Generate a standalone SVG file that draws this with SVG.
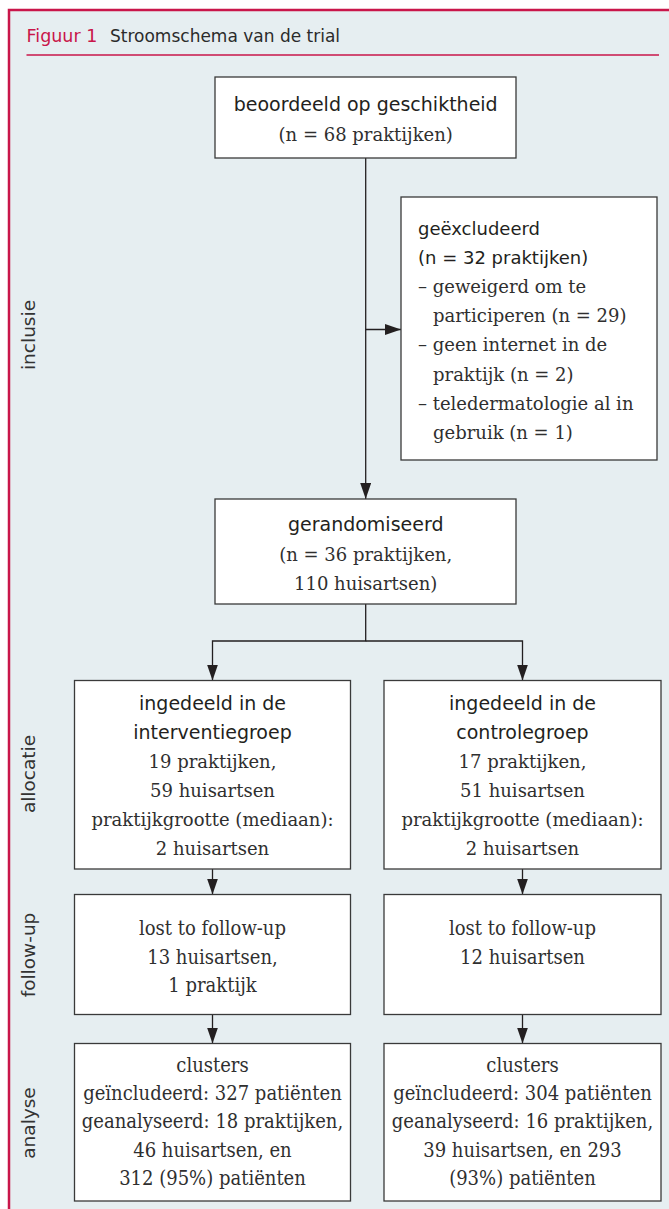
<svg xmlns="http://www.w3.org/2000/svg" width="669" height="1209" viewBox="0 0 669 1209">
<defs>
<marker id="ah" viewBox="0 0 16 11" refX="16" refY="5.5" markerWidth="16" markerHeight="11" markerUnits="userSpaceOnUse" orient="auto"><path d="M0,0 L16,5.5 L0,11 z" fill="#231f20"/></marker>
<style>
.box{fill:#ffffff;stroke:#3a3a3a;stroke-width:1.3}
.conn{fill:none;stroke:#231f20;stroke-width:1.3}
.t{font-family:"DejaVu Sans","Noto Sans",sans-serif;font-size:19px;fill:#231f20;text-anchor:middle}
.ts{font-family:"DejaVu Sans","Noto Sans",sans-serif;font-size:18px;fill:#231f20}
.b{font-family:"DejaVu Serif","Liberation Serif",serif;font-size:18px;fill:#2f2f2f;text-anchor:middle}
.bl{font-family:"DejaVu Serif","Liberation Serif",serif;font-size:18px;fill:#2f2f2f}
.c{font-family:"DejaVu Serif Condensed","DejaVu Serif",serif;font-stretch:condensed;font-size:20px;fill:#2f2f2f;text-anchor:middle}
.side{font-family:"DejaVu Sans","Noto Sans",sans-serif;font-size:18.5px;fill:#333;text-anchor:middle}
</style>
</defs>
<rect x="0" y="0" width="669" height="1209" fill="#ffffff"/>
<rect x="9" y="10" width="720" height="1260" fill="#e6eef1" stroke="#c9164a" stroke-width="2.5"/>
<g id="header">
<text x="26.5" y="42" font-family="DejaVu Sans, Noto Sans, sans-serif" font-size="17.5" fill="#c9164a">Figuur 1</text>
<text x="110" y="42" font-family="DejaVu Sans, Noto Sans, sans-serif" font-size="17" fill="#2b2b2b">Stroomschema van de trial</text>
<line x1="26.5" y1="55" x2="659" y2="55" stroke="#c9164a" stroke-width="1.3"/>
</g>
<g id="labels">
<text class="side" transform="translate(35,335) rotate(-90)">inclusie</text>
<text class="side" transform="translate(35,774) rotate(-90)">allocatie</text>
<text class="side" transform="translate(35,955) rotate(-90)">follow-up</text>
<text class="side" transform="translate(35,1123) rotate(-90)">analyse</text>
</g>
<g id="connectors">
<line class="conn" x1="365.7" y1="158" x2="365.7" y2="499" marker-end="url(#ah)"/>
<line class="conn" x1="365.7" y1="329.5" x2="401" y2="329.5" marker-end="url(#ah)"/>
<polyline class="conn" points="365.7,604 365.7,641 212.5,641 212.5,680.5" marker-end="url(#ah)"/>
<polyline class="conn" points="365.7,641 522.5,641 522.5,680.5" marker-end="url(#ah)"/>
<line class="conn" x1="212.5" y1="869" x2="212.5" y2="894.5" marker-end="url(#ah)"/>
<line class="conn" x1="522.5" y1="869" x2="522.5" y2="894.5" marker-end="url(#ah)"/>
<line class="conn" x1="212.5" y1="1014.5" x2="212.5" y2="1043.5" marker-end="url(#ah)"/>
<line class="conn" x1="522.5" y1="1014.5" x2="522.5" y2="1043.5" marker-end="url(#ah)"/>
</g>
<g id="beoordeeld">
<rect class="box" x="215" y="77" width="301" height="81"/>
<text class="t" x="365.7" y="111">beoordeeld op geschiktheid</text>
<text class="b" x="365.7" y="141">(n = 68 praktijken)</text>
</g>
<g id="geexcludeerd">
<rect class="box" x="401" y="197" width="256" height="263"/>
<text class="ts" x="418" y="235">geëxcludeerd</text>
<text class="ts" x="418" y="264">(n = 32 praktijken)</text>
<text class="bl" x="418" y="293">– geweigerd om te</text>
<text class="bl" x="433" y="322">participeren (n = 29)</text>
<text class="bl" x="418" y="351">– geen internet in de</text>
<text class="bl" x="433" y="381">praktijk (n = 2)</text>
<text class="bl" x="418" y="410">– teledermatologie al in</text>
<text class="bl" x="433" y="439">gebruik (n = 1)</text>
</g>
<g id="gerandomiseerd">
<rect class="box" x="215" y="499" width="301" height="105"/>
<text class="t" x="365.7" y="531">gerandomiseerd</text>
<text class="b" x="365.7" y="561">(n = 36 praktijken,</text>
<text class="b" x="365.7" y="590">110 huisartsen)</text>
</g>
<g id="interventiegroep">
<rect class="box" x="74.5" y="680.5" width="276" height="188.5"/>
<text class="t" x="212.5" y="710">ingedeeld in de</text>
<text class="t" x="212.5" y="739">interventiegroep</text>
<text class="b" x="212.5" y="768">19 praktijken,</text>
<text class="b" x="212.5" y="797">59 huisartsen</text>
<text class="b" x="212.5" y="826">praktijkgrootte (mediaan):</text>
<text class="b" x="212.5" y="855">2 huisartsen</text>
</g>
<g id="controlegroep">
<rect class="box" x="384" y="680.5" width="277" height="188.5"/>
<text class="t" x="522.5" y="710">ingedeeld in de</text>
<text class="t" x="522.5" y="739">controlegroep</text>
<text class="b" x="522.5" y="768">17 praktijken,</text>
<text class="b" x="522.5" y="797">51 huisartsen</text>
<text class="b" x="522.5" y="826">praktijkgrootte (mediaan):</text>
<text class="b" x="522.5" y="855">2 huisartsen</text>
</g>
<g id="followup-interventie">
<rect class="box" x="74.5" y="894.5" width="276" height="120"/>
<text class="c" x="212.5" y="935">lost to follow-up</text>
<text class="c" x="212.5" y="963.5">13 huisartsen,</text>
<text class="c" x="212.5" y="992">1 praktijk</text>
</g>
<g id="followup-controle">
<rect class="box" x="384" y="894.5" width="277" height="120"/>
<text class="c" x="522.5" y="935">lost to follow-up</text>
<text class="c" x="522.5" y="963.5">12 huisartsen</text>
</g>
<g id="analyse-interventie">
<rect class="box" x="74.5" y="1043.5" width="276" height="157.5"/>
<text class="c" x="212.5" y="1071.7">clusters</text>
<text class="c" x="212.5" y="1100">geïncludeerd: 327 patiënten</text>
<text class="c" x="212.5" y="1128.3">geanalyseerd: 18 praktijken,</text>
<text class="c" x="212.5" y="1156.7">46 huisartsen, en</text>
<text class="c" x="212.5" y="1185">312 (95%) patiënten</text>
</g>
<g id="analyse-controle">
<rect class="box" x="384" y="1043.5" width="277" height="157.5"/>
<text class="c" x="522.5" y="1071.7">clusters</text>
<text class="c" x="522.5" y="1100">geïncludeerd: 304 patiënten</text>
<text class="c" x="522.5" y="1128.3">geanalyseerd: 16 praktijken,</text>
<text class="c" x="522.5" y="1156.7">39 huisartsen, en 293</text>
<text class="c" x="522.5" y="1185">(93%) patiënten</text>
</g>
</svg>
